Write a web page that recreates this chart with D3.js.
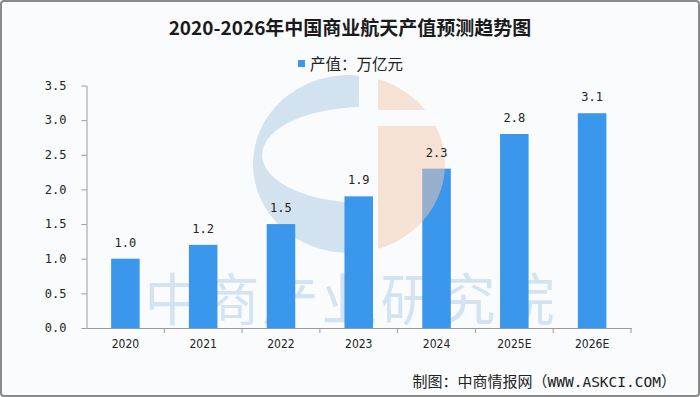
<!DOCTYPE html>
<meta charset="utf-8">
<script src="https://d3js.org/d3.v7.min.js"></script>
<style>
body { margin: 0; background: #fff; }
</style>
<div id="chart"></div>
<script>

// data
var years = ["2020", "2021", "2022", "2023", "2024", "2025E", "2026E"];
var values = [1.0, 1.2, 1.5, 1.9, 2.3, 2.8, 3.1];
var yTicks = [0, 0.5, 1.0, 1.5, 2.0, 2.5, 3.0, 3.5];

var W = 700, H = 397;
var barColor = "#3a97eb";
var axisColor = "#9a9a9a";
var cjk = "'Noto Sans CJK SC', 'Noto Sans', sans-serif";
var mono = "'DejaVu Sans Mono', monospace";

var svg = d3.select("#chart").append("svg")
    .attr("width", W)
    .attr("height", H);

// background + frame
svg.append("rect")
  .attr("x", 1).attr("y", 1)
  .attr("width", W - 2).attr("height", H - 2)
  .attr("rx", 3)
  .attr("fill", "#f9fbfd")
  .attr("stroke", "#8a8a8a")
  .attr("stroke-width", 2);

// scales
var x = d3.scaleBand()
  .domain(years)
  .range([86.5, 631])
  .paddingInner(0.633)
  .paddingOuter(0.3165);

var y = d3.scaleLinear()
  .domain([0, 3.5])
  .range([328, 85.5]);

// watermark logo (behind bars)
var defs = svg.append("defs");
defs.append("clipPath").attr("id", "clipL")
  .append("rect").attr("x", 0).attr("y", 0).attr("width", 359).attr("height", H);
var clipR = defs.append("clipPath").attr("id", "clipR");
clipR.append("rect").attr("x", 378).attr("y", 0).attr("width", 200).attr("height", 110);
clipR.append("rect").attr("x", 378).attr("y", 126).attr("width", 200).attr("height", 300);

var cx = 349, cy = 164, rx = 96, ry = 89;
var ell = function(ex, ey, erx, ery) {
  return "M" + (ex - erx) + "," + ey +
    "a" + erx + "," + ery + " 0 1,0 " + (2 * erx) + ",0" +
    "a" + erx + "," + ery + " 0 1,0 " + (-2 * erx) + ",0Z";
};

svg.append("path")
  .attr("d", ell(cx, cy, rx, ry) + ell(364, 155, 102, 48))
  .attr("fill-rule", "evenodd")
  .attr("fill", "#d2e2ef")
  .attr("clip-path", "url(#clipL)");

// watermark text
svg.append("text")
  .attr("x", 351)
  .attr("y", 320)
  .attr("text-anchor", "middle")
  .attr("font-family", cjk)
  .attr("font-size", 56)
  .attr("letter-spacing", 3)
  .attr("fill", "#d3e3f1")
  .text("中商产业研究院");

// bars
svg.selectAll(".bar")
  .data(values)
  .enter()
  .append("rect")
    .attr("class", "bar")
    .attr("x", function(d, i) { return x(years[i]); })
    .attr("y", function(d) { return y(d); })
    .attr("width", x.bandwidth())
    .attr("height", function(d) { return y(0) - y(d); })
    .attr("fill", barColor);

// orange half of logo sits over the bars, half transparent
svg.append("path")
  .attr("d", ell(cx, cy, rx, ry))
  .attr("fill", "#f4c7ad")
  .attr("opacity", 0.5)
  .attr("clip-path", "url(#clipR)");

// value labels
svg.selectAll(".val")
  .data(values)
  .enter()
  .append("text")
    .attr("class", "val")
    .attr("x", function(d, i) { return x(years[i]) + x.bandwidth() / 2; })
    .attr("y", function(d) { return y(d) - 12; })
    .attr("text-anchor", "middle")
    .attr("font-family", mono)
    .attr("font-size", 12)
    .attr("fill", "#222")
    .text(function(d) { return d.toFixed(1); });

// y axis
var yAxis = svg.append("g")
  .attr("transform", "translate(86.5,0)")
  .call(d3.axisLeft(y).tickValues(yTicks).tickFormat(d3.format(".1f"))
    .tickSize(5).tickSizeOuter(0).tickPadding(15));
yAxis.select(".domain").attr("stroke", axisColor);
yAxis.selectAll(".tick line").attr("stroke", axisColor);
yAxis.selectAll("text")
  .attr("font-family", mono)
  .attr("font-size", 12)
  .attr("fill", "#222");

// x axis (labels centred, ticks between categories)
var xAxis = svg.append("g")
  .attr("transform", "translate(0,328)")
  .call(d3.axisBottom(x).tickSize(0).tickSizeOuter(0).tickPadding(11));
xAxis.select(".domain").attr("stroke", axisColor);
xAxis.selectAll("text")
  .attr("font-family", "'DejaVu Sans Condensed', 'DejaVu Sans', sans-serif")
  .attr("font-stretch", "condensed")
  .attr("font-size", 12)
  .attr("fill", "#222");

var bounds = years.map(function(d) { return x(d) + x.bandwidth() / 2 + x.step() / 2; });
xAxis.selectAll(".sep")
  .data(bounds)
  .enter()
  .append("line")
    .attr("class", "sep")
    .attr("x1", function(d) { return d; })
    .attr("x2", function(d) { return d; })
    .attr("y1", 0)
    .attr("y2", 5)
    .attr("stroke", axisColor);

// title
svg.append("text")
  .attr("x", 350)
  .attr("y", 35)
  .attr("text-anchor", "middle")
  .attr("font-family", cjk)
  .attr("font-weight", 700)
  .attr("font-size", 19)
  .attr("fill", "#1a1a1a")
  .text("2020-2026年中国商业航天产值预测趋势图");

// legend
svg.append("rect")
  .attr("x", 298).attr("y", 60)
  .attr("width", 7).attr("height", 7)
  .attr("fill", barColor);
svg.append("text")
  .attr("x", 310)
  .attr("y", 70)
  .attr("font-family", cjk)
  .attr("font-size", 15.5)
  .attr("fill", "#222")
  .text("产值：万亿元");

// source
var src = svg.append("text")
  .attr("x", 676)
  .attr("y", 387)
  .attr("text-anchor", "end")
  .attr("font-family", cjk)
  .attr("font-size", 15)
  .attr("fill", "#222");
src.append("tspan").text("制图：中商情报网（");
src.append("tspan").attr("font-family", mono).attr("font-size", 14.5).text("WWW.ASKCI.COM");
src.append("tspan").text("）");

</script>
